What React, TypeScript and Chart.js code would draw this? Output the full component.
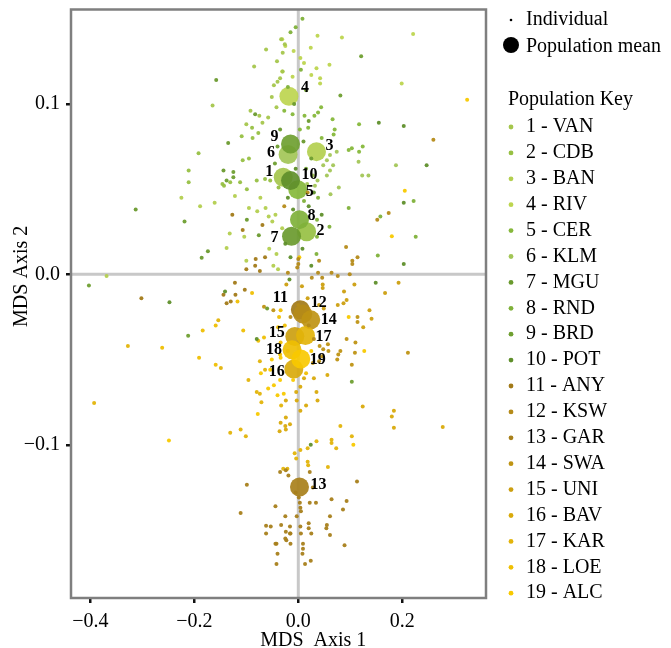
import React, { useEffect, useRef } from 'react';
import { Chart, registerables } from 'chart.js';
Chart.register(...registerables);

const populations = ['VAN', 'CDB', 'BAN', 'RIV', 'CER', 'KLM', 'MGU', 'RND', 'BRD', 'POT', 'ANY', 'KSW', 'GAR', 'SWA', 'UNI', 'BAV', 'KAR', 'LOE', 'ALC'];
const popColors = ['#a5c64c', '#97c043', '#b3cf4f', '#bdd54f', '#86b83b', '#a3c657', '#6a9a2e', '#7fb13a', '#6f9f31', '#5f8f2b', '#a27a18', '#b58b19', '#a8801b', '#bf9414', '#cc9f10', '#d9aa0b', '#e3b40a', '#efbf03', '#f8c900'];

const meanX = [-0.029, 0.016, 0.035, -0.018, -0.001, -0.0196, -0.013, 0.0023, -0.015, -0.015, 0.004, 0.0086, 0.0023, 0.024, -0.0067, -0.0086, 0.0138, -0.012, 0.0048];
const meanY = [0.057, 0.025, 0.072, 0.1045, 0.0497, 0.0703, 0.0224, 0.0321, 0.0765, 0.055, -0.0208, -0.0232, -0.1248, -0.0267, -0.0365, -0.0556, -0.0359, -0.0443, -0.0497];

const ind1 = [[-0.033,0.138],[-0.026,0.135],[-0.062,0.132],[-0.030,0.130],[-0.041,0.125],[-0.085,0.122],[-0.030,0.119],[-0.035,0.115],[-0.047,0.111],[-0.040,0.113],[-0.051,0.104],[-0.165,0.099],[-0.042,0.098],[-0.092,0.096],[-0.075,0.093],[-0.100,0.088],[-0.069,0.089],[-0.058,0.092]];
const ind2 = [[-0.089,0.086],[-0.109,0.081],[-0.088,0.080],[-0.077,0.083],[-0.192,0.071],[-0.095,0.068],[-0.107,0.067],[-0.211,0.061],[-0.211,0.054],[-0.146,0.053],[-0.131,0.054],[-0.112,0.054],[-0.143,0.052],[-0.099,0.050],[-0.080,0.055],[-0.064,0.056],[-0.054,0.055],[-0.038,0.051]];
const ind3 = [[-0.122,0.046],[-0.073,0.045],[-0.225,0.045],[-0.161,0.042],[-0.189,0.040],[-0.095,0.039],[-0.079,0.037],[-0.063,0.039],[-0.057,0.034],[-0.044,0.035],[-0.050,0.031],[-0.031,0.027],[-0.132,0.024],[-0.104,0.022],[-0.138,0.0155],[-0.100,0.008],[-0.056,0.015],[-0.042,0.012],[-0.369,-0.001],[-0.048,0.005],[-0.039,0.003]];
const ind4 = [[-0.031,0.138],[-0.009,0.131],[-0.025,0.134],[0.037,0.140],[0.084,0.139],[0.221,0.141],[0.024,0.133],[0.004,0.127],[-0.031,0.119],[0.011,0.124],[0.035,0.121],[0.060,0.123],[0.025,0.117],[0.042,0.115],[-0.011,0.116],[0.199,0.112],[0.042,0.112]];
const ind5 = [[0.044,0.098],[0.038,0.095],[0.031,0.093],[0.012,0.093],[-0.011,0.094],[-0.027,0.096],[0.066,0.091],[0.117,0.088],[0.019,0.086],[0.070,0.085],[0.068,0.082],[0.045,0.080],[0.003,0.085],[0.097,0.073],[0.103,0.074],[0.117,0.072],[0.124,0.075]];
const ind6 = [[0.074,0.072],[0.061,0.070],[0.055,0.067],[0.048,0.064],[0.067,0.064],[0.116,0.066],[0.188,0.064],[0.055,0.058],[0.061,0.061],[0.123,0.058],[0.135,0.058],[0.028,0.058],[0.037,0.055],[0.017,0.053],[0.032,0.052],[0.078,0.051],[0.062,0.047]];
const ind7 = [[-0.158,0.114],[-0.083,0.094],[-0.135,0.077],[-0.144,0.061],[-0.313,0.038],[-0.099,0.032],[-0.076,0.023],[-0.174,0.0136],[-0.186,0.0097],[-0.008,0.1],[0.02,0.09],[-0.035,0.085],[0.01,0.078],[-0.060,-0.020]];
const ind8 = [[0.038,0.045],[0.097,0.039],[0.011,0.043],[0.158,0.034],[0.222,0.043],[0.036,0.032],[0.060,0.028],[0.226,0.022],[0.036,0.022],[0.035,0.012],[0.153,0.011],[-0.005,0.145],[0.008,0.15],[-0.015,0.142],[0.005,0.12],[-0.02,0.11],[0.015,0.108]];
const ind9 = [[-0.125,0.060],[-0.138,0.055],[-0.125,0.057],[-0.219,0.031],[0.121,0.128],[0.081,0.105],[-0.04,0.075],[0.025,0.068],[-0.045,0.065],[0.015,0.062],[-0.403,-0.0066],[-0.212,-0.036],[0.103,-0.063]];
const ind10 = [[0.155,0.089],[0.203,0.087],[0.247,0.064],[0.203,0.042],[0.203,0.006],[-0.02,0.045],[0.02,0.04],[-0.01,0.038],[0.008,0.015],[-0.015,0.01],[0.025,0.005],[-0.025,0.018],[0.045,0.035],[-0.005,0.062],[0.03,0.048],[-0.248,-0.0163],[-0.141,-0.010],[-0.080,-0.038],[-0.017,-0.003],[0.149,-0.005],[0.024,-0.100]];
const ind11 = [[-0.127,0.035],[-0.069,0.029],[-0.107,0.026],[-0.064,0.010],[-0.082,0.009],[-0.083,0.005],[-0.100,0.003],[-0.074,0.002],[-0.302,-0.014],[-0.122,-0.005],[-0.103,-0.009],[-0.144,-0.012],[-0.138,-0.017],[-0.130,-0.016],[-0.121,-0.012]];
const ind12 = [[0.260,0.079],[0.018,0.048],[-0.027,0.040],[0.174,0.036],[0.152,0.032],[0.092,0.016],[0.114,0.010],[0.104,0.008],[0.104,0.006],[0.040,0.008],[0.0,0.009],[0.0,0.006],[-0.002,0.004],[0.064,0.001],[0.038,0.001],[-0.020,0.001],[0.026,-0.002],[0.046,-0.002],[0.076,-0.001],[0.099,0.000],[0.0,-0.018],[0.02,-0.03],[-0.015,-0.025],[0.03,-0.038]];
const ind13 = [[-0.035,-0.116],[-0.024,-0.115],[-0.099,-0.1235],[-0.044,-0.136],[-0.111,-0.140],[-0.062,-0.1475],[-0.053,-0.148],[-0.033,-0.147],[-0.062,-0.152],[-0.042,-0.158],[-0.044,-0.158],[-0.025,-0.155],[-0.016,-0.152],[-0.040,-0.164],[-0.042,-0.170],[0.022,-0.116],[0.113,-0.1215],[-0.019,-0.118],[-0.005,-0.128],[0.028,-0.125],[0.001,-0.131],[0.003,-0.134],[0.004,-0.137],[0.022,-0.134],[0.034,-0.134],[0.064,-0.132],[0.093,-0.133],[0.086,-0.138],[0.005,-0.139],[-0.003,-0.142],[0.061,-0.142],[-0.025,-0.142],[0.055,-0.147],[0.054,-0.149],[0.020,-0.146],[0.020,-0.149],[0.025,-0.152],[0.004,-0.148],[0.005,-0.152],[-0.016,-0.148],[-0.015,-0.152],[0.061,-0.153],[0.089,-0.159],[-0.015,-0.158],[0.009,-0.158],[0.009,-0.161],[0.008,-0.164],[0.024,-0.168],[0.013,-0.170],[-0.024,-0.151],[-0.023,-0.156]];
const ind14 = [[0.114,-0.025],[0.114,-0.028],[0.093,-0.038],[0.110,-0.040],[0.109,-0.046],[0.077,-0.047],[0.081,-0.045],[0.075,-0.050],[0.058,-0.045],[0.057,-0.041],[0.048,-0.044],[0.041,-0.042],[0.040,-0.051],[0.028,-0.052],[0.046,-0.048],[0.211,-0.046],[0.103,-0.053],[-0.066,-0.019],[-0.048,-0.021]];
const ind15 = [[0.193,-0.005],[0.167,-0.011],[0.108,-0.006],[0.088,-0.010],[0.047,-0.006],[0.047,-0.008],[0.007,-0.007],[-0.023,-0.006],[0.018,-0.014],[0.040,-0.018],[0.049,-0.020],[0.076,-0.018],[0.087,-0.017],[0.093,-0.015],[0.137,-0.021],[0.141,-0.026],[0.125,-0.031]];
const ind16 = [[0.056,-0.059],[0.030,-0.061],[0.035,-0.069],[0.037,-0.074],[0.011,-0.061],[0.004,-0.066],[-0.004,-0.069],[-0.003,-0.074],[-0.024,-0.074],[0.004,-0.080],[0.015,-0.077],[-0.024,-0.084],[-0.016,-0.088],[-0.025,-0.089],[0.124,-0.0775],[0.180,-0.0834],[0.184,-0.080],[0.184,-0.090],[0.278,-0.0895],[-0.034,-0.087],[-0.036,-0.092],[-0.024,-0.091]];
const ind17 = [[0.081,-0.089],[0.103,-0.095],[0.064,-0.097],[0.064,-0.099],[0.073,-0.102],[0.035,-0.098],[0.018,-0.102],[0.004,-0.103],[-0.007,-0.105],[-0.004,-0.108],[0.018,-0.110],[0.019,-0.112],[0.057,-0.113],[-0.029,-0.114],[-0.021,-0.114],[-0.131,-0.093],[-0.111,-0.091],[-0.101,-0.095],[-0.328,-0.042],[-0.393,-0.0755],[-0.154,-0.027],[-0.149,-0.055],[-0.074,-0.051],[-0.096,-0.062],[-0.064,-0.056],[-0.080,-0.069],[-0.074,-0.070],[-0.071,-0.075],[-0.033,-0.077]];
const ind18 = [[-0.089,-0.011],[-0.117,-0.016],[-0.159,-0.030],[-0.184,-0.033],[-0.106,-0.033],[-0.077,-0.039],[-0.066,-0.037],[-0.262,-0.043],[-0.191,-0.049],[-0.159,-0.053],[-0.034,-0.021],[-0.037,-0.025],[-0.026,-0.030],[-0.039,-0.031],[-0.034,-0.040],[-0.035,-0.047],[-0.02,-0.045],[0.015,-0.058]];
const ind19 = [[-0.072,-0.058],[-0.058,-0.067],[-0.047,-0.065],[-0.078,-0.082],[-0.040,-0.071],[-0.249,-0.0975],[0.097,-0.025],[0.127,-0.045],[0.106,-0.100],[0.325,0.1025],[0.205,0.049],[0.180,0.0224],[0.002,0.010],[-0.034,-0.049],[-0.051,-0.050],[-0.054,-0.056],[-0.035,-0.062],[-0.028,-0.070],[-0.01,-0.062],[0.025,-0.045]];

const individuals = [ind1, ind2, ind3, ind4, ind5, ind6, ind7, ind8, ind9, ind10, ind11, ind12, ind13, ind14, ind15, ind16, ind17, ind18, ind19];

const xTicks = [-0.4, -0.2, 0.0, 0.2];
const yTicks = [-0.1, 0.0, 0.1];
const xMin = -0.4375, xMax = 0.3613;
const yMin = -0.1899, yMax = 0.1554;
const xTitle = 'MDS  Axis 1';
const yTitle = 'MDS Axis 2';
const legendIndividual = 'Individual';
const legendMean = 'Population mean';
const legendKeyTitle = 'Population Key';

// label offsets (px) for mean numbers
const labelOffsets = [[-14, -5], [14, -1], [13, -6], [16, -8], [12, 2], [-17, -2], [-17, 2], [12, -4], [-16, -7], [19, -6], [-20, -12], [16, -11], [19, -2], [18, 0], [-18, -4], [-17, 3], [18, 1], [-18, 0], [17, 1]];

const SERIF = '"Liberation Serif", "Times New Roman", serif';

const fmt = (v: number) => (v < -1e-9 ? '\u2212' : '') + Math.abs(v).toFixed(1);

function hexA(hex: string, a: number) {
  const n = parseInt(hex.slice(1), 16);
  return `rgba(${(n >> 16) & 255},${(n >> 8) & 255},${n & 255},${a})`;
}

const decorPlugin = {
  id: 'decor',
  beforeDatasetsDraw(chart: any) {
    const { ctx, chartArea: a, scales } = chart;
    const x0 = scales.x.getPixelForValue(0);
    const y0 = scales.y.getPixelForValue(0);
    ctx.save();
    ctx.strokeStyle = '#c8c8c8';
    ctx.lineWidth = 3;
    ctx.beginPath();
    ctx.moveTo(x0, a.top);
    ctx.lineTo(x0, a.bottom);
    ctx.moveTo(a.left, y0);
    ctx.lineTo(a.right, y0);
    ctx.stroke();
    ctx.restore();
  },
  afterDatasetsDraw(chart: any) {
    const { ctx, chartArea: a, scales } = chart;
    ctx.save();
    ctx.strokeStyle = '#7f7f7f';
    ctx.lineWidth = 2.5;
    ctx.strokeRect(a.left, a.top, a.right - a.left, a.bottom - a.top);

    ctx.fillStyle = '#000';
    ctx.font = `bold 16px ${SERIF}`;
    ctx.textAlign = 'center';
    ctx.textBaseline = 'middle';
    meanX.forEach((mx, i) => {
      const px = scales.x.getPixelForValue(mx);
      const py = scales.y.getPixelForValue(meanY[i]);
      ctx.fillText(String(i + 1), px + labelOffsets[i][0], py + labelOffsets[i][1]);
    });

    ctx.font = `20px ${SERIF}`;
    ctx.fillText(xTitle, scales.x.getPixelForValue(0) + 15, 641);
    ctx.save();
    ctx.translate(22, scales.y.getPixelForValue(0) + 2);
    ctx.rotate(-Math.PI / 2);
    ctx.fillText(yTitle, 0, 0);
    ctx.restore();

    const lx = 511;
    const tx = 526;
    ctx.textAlign = 'left';
    ctx.font = `20px ${SERIF}`;
    ctx.fillStyle = '#000';
    ctx.beginPath();
    ctx.arc(lx, 20, 1.3, 0, Math.PI * 2);
    ctx.fill();
    ctx.fillText(legendIndividual, tx, 20);
    ctx.beginPath();
    ctx.arc(lx, 45, 8, 0, Math.PI * 2);
    ctx.fill();
    ctx.fillText(legendMean, tx, 47);
    ctx.fillText(legendKeyTitle, 508, 100);
    populations.forEach((p, i) => {
      const y = 127 + i * 25.9;
      ctx.fillStyle = popColors[i];
      ctx.beginPath();
      ctx.arc(lx, y, 2.4, 0, Math.PI * 2);
      ctx.fill();
      ctx.fillStyle = '#000';
      ctx.fillText(`${i + 1} - ${p}`, tx, y);
    });
    ctx.restore();
  },
};

export default function App() {
  const ref = useRef<HTMLCanvasElement | null>(null);
  useEffect(() => {
    document.body.style.margin = '0';
    const canvas = ref.current;
    if (!canvas) return;
    const datasets: any[] = individuals.map((pts, i) => ({
      label: populations[i],
      data: pts.map(([x, y]) => ({ x, y })),
      pointRadius: 2,
      pointBackgroundColor: hexA(popColors[i], 0.95),
      pointBorderWidth: 0,
      showLine: false,
    }));
    datasets.push({
      label: 'means',
      data: meanX.map((x, i) => ({ x, y: meanY[i] })),
      pointRadius: 9.5,
      pointBackgroundColor: popColors.map((c) => hexA(c, 0.92)),
      pointBorderWidth: 0,
      showLine: false,
    });
    const tickFont = { family: SERIF, size: 20 };
    const chart = new Chart(canvas, {
      type: 'scatter',
      data: { datasets },
      options: {
        responsive: false,
        animation: false,
        layout: { padding: { top: 9, right: 185, left: 0, bottom: 0 } },
        plugins: { legend: { display: false }, tooltip: { enabled: false } },
        scales: {
          x: {
            type: 'linear',
            min: xMin,
            max: xMax,
            afterBuildTicks: (s: any) => { s.ticks = xTicks.map((v) => ({ value: v })); },
            afterFit: (s: any) => { s.height = 50; s.paddingLeft = 0; s.paddingRight = 0; },
            grid: { drawOnChartArea: false, drawTicks: true, tickLength: 5, color: '#111', lineWidth: 2.5 },
            border: { display: false },
            ticks: { font: tickFont, color: '#000', padding: 7, maxRotation: 0, callback: (v: any) => fmt(Number(v)) },
          },
          y: {
            type: 'linear',
            min: yMin,
            max: yMax,
            afterBuildTicks: (s: any) => { s.ticks = yTicks.map((v) => ({ value: v })); },
            afterFit: (s: any) => { s.width = 71; s.paddingTop = 0; s.paddingBottom = 0; },
            grid: { drawOnChartArea: false, drawTicks: true, tickLength: 5, color: '#111', lineWidth: 2.5 },
            border: { display: false },
            ticks: { font: tickFont, color: '#000', padding: 6, callback: (v: any) => fmt(Number(v)) },
          },
        },
      },
      plugins: [decorPlugin],
    } as any);
    return () => chart.destroy();
  }, []);
  return (
    <div style={{ position: 'absolute', left: 0, top: 0, width: 671, height: 648 }}>
      <canvas ref={ref} width={671} height={648} style={{ display: 'block' }} />
    </div>
  );
}
